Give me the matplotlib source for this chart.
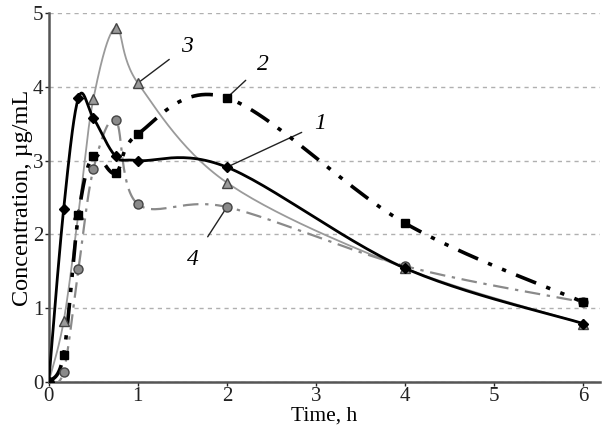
import numpy as np
import matplotlib
matplotlib.use("Agg")
import matplotlib.pyplot as plt

time_h = [0, 0.167, 0.333, 0.5, 0.75, 1, 2, 4, 6]
conc_1 = [0, 2.34, 3.85, 3.58, 3.06, 3.00, 2.91, 1.54, 0.79]
conc_2 = [0, 0.37, 2.26, 3.06, 2.83, 3.36, 3.85, 2.15, 1.08]
conc_3 = [0, 0.82, 2.28, 3.83, 4.80, 4.05, 2.70, 1.54, 0.79]
conc_4 = [0, 0.14, 1.53, 2.88, 3.55, 2.41, 2.37, 1.57, 1.08]
curve_labels = ["1", "2", "3", "4"]

plt.rcParams['font.family'] = ['Liberation Serif', 'DejaVu Serif']


def smooth(x, y, n=30):
    # Bezier smoothing like spreadsheet "smoothed line" (Catmull-Rom)
    x = np.asarray(x, float); y = np.asarray(y, float)
    P = np.column_stack([x, y])
    out = [P[0]]
    for i in range(len(P) - 1):
        p0 = P[i - 1] if i > 0 else P[i]
        p1 = P[i]; p2 = P[i + 1]
        p3 = P[i + 2] if i + 2 < len(P) else P[i + 1]
        c1 = p1 + (p2 - p0) / 6.0
        c2 = p2 - (p3 - p1) / 6.0
        t = np.linspace(0, 1, n)[1:, None]
        seg = ((1 - t) ** 3) * p1 + 3 * ((1 - t) ** 2) * t * c1 + 3 * (1 - t) * t ** 2 * c2 + t ** 3 * p2
        out.extend(seg)
    out = np.array(out)
    return out[:, 0], out[:, 1]


fig = plt.figure(figsize=(6.02, 4.32), dpi=100)
ax = fig.add_axes([0.081, 0.116, 0.916, 0.854])

styles = [
    dict(y=conc_1, color='black', lw=2.0, ls='-', marker='D', ms=5.5, mfc='black', mec='black', z=5),
    dict(y=conc_2, color='black', lw=2.6, ls=(0, (6, 3, 1.2, 3, 1.2, 3)), marker='s', ms=6, mfc='black', mec='black', z=4),
    dict(y=conc_3, color='#9a9a9a', lw=1.3, ls='-', marker='^', ms=6.5, mfc='#9a9a9a', mec='#444444', z=3),
    dict(y=conc_4, color='#8a8a8a', lw=1.6, ls=(0, (7, 3, 1.5, 3)), marker='o', ms=6.5, mfc='#8a8a8a', mec='#444444', z=3),
]
for s in styles:
    sx, sy = smooth(time_h, s['y'])
    ax.plot(sx, sy, color=s['color'], lw=s['lw'], ls=s['ls'], zorder=s['z'])
    ax.plot(time_h, s['y'], ls='none', marker=s['marker'], ms=s['ms'],
            mfc=s['mfc'], mec=s['mec'], mew=1.0, zorder=s['z'] + 1)

ax.set_xlim(0, 6.19)
ax.set_ylim(0, 5)
ax.set_xticks(range(0, 7))
ax.set_yticks(range(0, 6))
ax.yaxis.grid(True, color='#b0b0b0', ls=(0, (3, 3)), lw=1.0)
ax.set_axisbelow(True)
for sp in ['top', 'right']:
    ax.spines[sp].set_visible(False)
for sp in ['left', 'bottom']:
    ax.spines[sp].set_color('#555555')
    ax.spines[sp].set_linewidth(1.8)
ax.tick_params(axis='both', labelsize=15, colors='#222222', length=3, width=1, direction='out', pad=1)
ax.set_xlabel('Time, h', fontsize=15.5, labelpad=0)
ax.set_ylabel('Concentration, µg/mL', fontsize=17.5, labelpad=0)

# curve labels with leader lines
ann = [
    (curve_labels[0], (2, conc_1[6]), (3.05, 3.5)),
    (curve_labels[1], (2, conc_2[6]), (2.4, 4.3)),
    (curve_labels[2], (1, conc_3[5]), (1.55, 4.55)),
    (curve_labels[3], (2, conc_4[6]), (1.62, 1.66)),
]
for lab, xy, txy in ann:
    ax.annotate(lab, xy=xy, xytext=txy, fontsize=17, style='italic',
                ha='center', va='center',
                arrowprops=dict(arrowstyle='-', color='#222222', lw=1.0, shrinkA=8, shrinkB=2))

fig.savefig('out.png', dpi=100)
